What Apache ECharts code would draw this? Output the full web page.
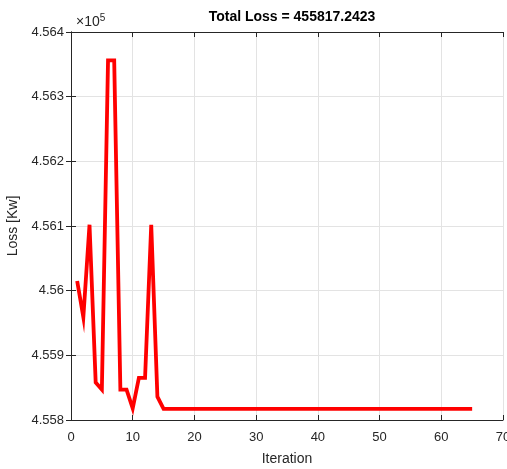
<!DOCTYPE html>
<html>
<head>
<meta charset="utf-8">
<script src="https://cdn.jsdelivr.net/npm/echarts@6/dist/echarts.min.js"></script>
<style>
  html, body { margin: 0; padding: 0; background: #fff; }
  #chart { width: 507px; height: 469px; }
</style>
</head>
<body>
<div id="chart"></div>
<script>
const iterations = [];
for (let i = 1; i <= 65; i++) iterations.push(i);

// loss per iteration (first 15), then flat at final value
const earlyLoss = [
  456015, 455959, 456102, 455858, 455847, 456356, 456356, 455847,
  455847, 455818, 455865, 455865, 456102, 455836, 455817.2423
];
const finalLoss = 455817.2423;
const lossValues = iterations.map((it, i) => (i < earlyLoss.length ? earlyLoss[i] : finalLoss));

const xTicks = [0, 10, 20, 30, 40, 50, 60, 70];
const yTicks = [455800, 455900, 456000, 456100, 456200, 456300, 456400];

const FONT = "Liberation Sans, Arial, sans-serif";
const TXT = "#262626";
const AXIS = "#262626";
const GRIDC = "#e3e3e3";

const chart = echarts.init(document.getElementById("chart"));

const option = {
  backgroundColor: "#fff",
  animation: false,
  title: [
    {
      text: "Total Loss = " + finalLoss.toFixed(4),
      left: 287,
      textAlign: "center",
      top: 5,
      textStyle: { fontFamily: FONT, fontSize: 14, fontWeight: "bold", color: "#000" },
    },
    {
      text: "{b|×10}{sup|5}",
      left: 71,
      top: 8,
      textStyle: {
        fontWeight: "normal",
        rich: {
          b: { fontFamily: FONT, fontSize: 14, fontWeight: "normal", color: TXT },
          sup: { fontFamily: FONT, fontSize: 10, fontWeight: "normal", color: TXT, verticalAlign: "top", padding: [0, 0, 8, 0] },
        },
      },
    },
  ],
  grid: { left: 71, right: 4, top: 32, bottom: 49, containLabel: false, outerBoundsMode: "none" },
  xAxis: [
    {
      type: "value",
      min: xTicks[0],
      max: xTicks[xTicks.length - 1],
      interval: 10,
      name: "Iteration",
      nameLocation: "middle",
      nameGap: 32,
      nameTextStyle: { fontFamily: FONT, fontSize: 14, color: TXT },
      axisLine: { show: true, lineStyle: { color: AXIS, width: 1 } },
      axisTick: { show: true, inside: true, length: 5, lineStyle: { color: AXIS } },
      axisLabel: { fontFamily: FONT, fontSize: 13, color: TXT, margin: 11 },
      splitLine: { show: true, lineStyle: { color: GRIDC, width: 1 } },
    },
    {
      type: "value",
      position: "top",
      min: xTicks[0],
      max: xTicks[xTicks.length - 1],
      interval: 10,
      axisLine: { show: true, lineStyle: { color: AXIS, width: 1 } },
      axisTick: { show: true, inside: true, length: 5, lineStyle: { color: AXIS } },
      axisLabel: { show: false },
      splitLine: { show: false },
    },
  ],
  yAxis: [
    {
      type: "value",
      min: yTicks[0],
      max: yTicks[yTicks.length - 1],
      interval: 100,
      name: "Loss [Kw]",
      nameLocation: "middle",
      nameGap: 44,
      nameTextStyle: { fontFamily: FONT, fontSize: 14, color: TXT },
      axisLine: { show: true, lineStyle: { color: AXIS, width: 1 } },
      axisTick: { show: true, inside: true, length: 5, lineStyle: { color: AXIS } },
      axisLabel: {
        fontFamily: FONT, fontSize: 13, color: TXT, margin: 7,
        formatter: (v) => String(parseFloat((v / 1e5).toFixed(3))),
      },
      splitLine: { show: true, lineStyle: { color: GRIDC, width: 1 } },
    },
    {
      type: "value",
      position: "right",
      min: yTicks[0],
      max: yTicks[yTicks.length - 1],
      interval: 100,
      axisLine: { show: true, lineStyle: { color: AXIS, width: 1 } },
      axisTick: { show: true, inside: true, length: 5, lineStyle: { color: AXIS } },
      axisLabel: { show: false },
      splitLine: { show: false },
    },
  ],
  series: [
    {
      type: "line",
      data: iterations.map((it, i) => [it, lossValues[i]]),
      showSymbol: false,
      symbol: "none",
      lineStyle: { color: "#ff0000", width: 3.8, join: "miter" },
      itemStyle: { color: "#ff0000" },
    },
  ],
};

chart.setOption(option);
</script>
</body>
</html>
